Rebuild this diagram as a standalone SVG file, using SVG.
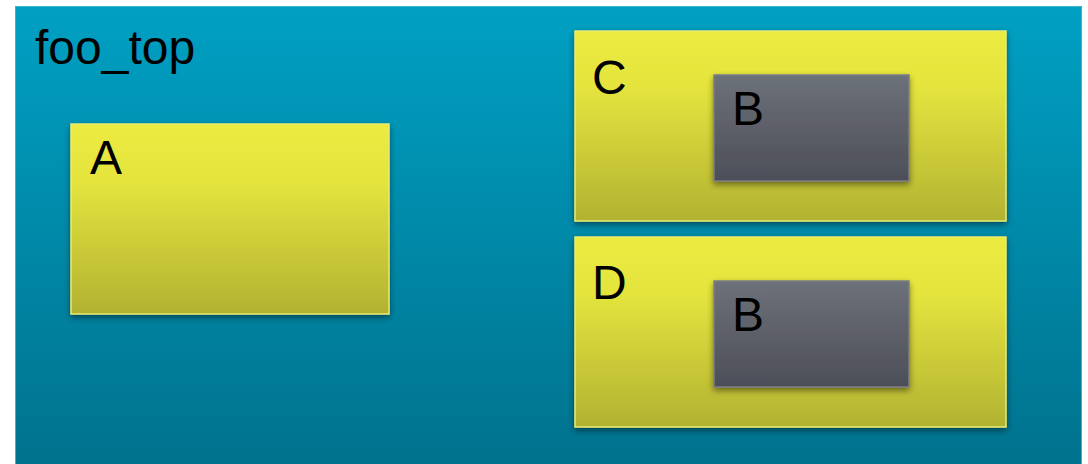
<svg xmlns="http://www.w3.org/2000/svg" width="1088" height="464" viewBox="0 0 1088 464">
<defs>
<linearGradient id="gTop" x1="0" y1="0" x2="0" y2="1">
<stop offset="0" stop-color="#00a0c3"/>
<stop offset="1" stop-color="#00718c"/>
</linearGradient>
<linearGradient id="gY" x1="0" y1="0" x2="0" y2="1">
<stop offset="0" stop-color="#ebeb40"/>
<stop offset="0.3" stop-color="#e4e43e"/>
<stop offset="1" stop-color="#b2b232"/>
</linearGradient>
<linearGradient id="gB" x1="0" y1="0" x2="0" y2="1">
<stop offset="0" stop-color="#6d7179"/>
<stop offset="1" stop-color="#4c4e58"/>
</linearGradient>
<filter id="sh" x="-10%" y="-10%" width="120%" height="130%">
<feGaussianBlur in="SourceAlpha" stdDeviation="3"/>
<feOffset dx="0" dy="3" result="b"/>
<feComponentTransfer><feFuncA type="linear" slope="0.45"/></feComponentTransfer>
<feMerge><feMergeNode/><feMergeNode in="SourceGraphic"/></feMerge>
</filter>
</defs>
<style>
text{font-family:"Liberation Sans",Arial,sans-serif;font-size:48px;fill:#000}
.y{fill:url(#gY);stroke:#eaea70;stroke-width:1.5;filter:url(#sh)}
.b{fill:url(#gB);stroke:#7b7e86;stroke-width:1.5;filter:url(#sh)}
</style>
<rect width="1088" height="464" fill="#ffffff"/>
<g id="foo_top">
<rect x="15.5" y="6.5" width="1066" height="470" fill="url(#gTop)" stroke="#3db4d0" stroke-width="1"/>
<text x="35" y="64">foo_top</text>
</g>
<g id="A">
<rect class="y" x="71" y="124" width="318" height="190"/>
<text x="90" y="174">A</text>
</g>
<g id="C">
<rect class="y" x="575" y="31" width="431" height="190"/>
<text x="592" y="94">C</text>
</g>
<g id="C_B">
<rect class="b" x="714" y="75" width="195" height="106"/>
<text x="732" y="125">B</text>
</g>
<g id="D">
<rect class="y" x="575" y="237" width="431" height="190"/>
<text x="592" y="299">D</text>
</g>
<g id="D_B">
<rect class="b" x="714" y="281" width="195" height="106"/>
<text x="732" y="331">B</text>
</g>
<g id="connectors"></g>
</svg>
